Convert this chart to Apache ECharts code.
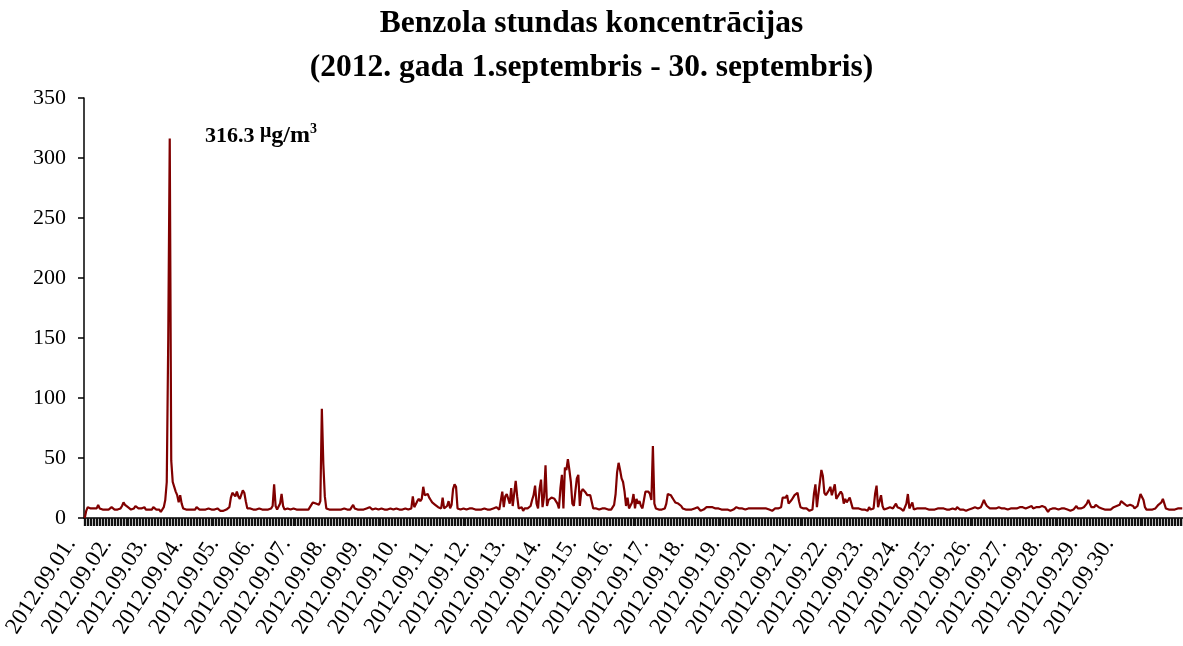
<!DOCTYPE html>
<html>
<head>
<meta charset="utf-8">
<script src="https://cdn.jsdelivr.net/npm/echarts@6/dist/echarts.min.js"></script>
<style>html,body{margin:0;padding:0;background:#fff}#c{width:1183px;height:646px}</style>
</head>
<body>
<div id="c"></div>
<script>
// Day tick labels
const dayLabels = ["2012.09.01.","2012.09.02.","2012.09.03.","2012.09.04.","2012.09.05.","2012.09.06.","2012.09.07.","2012.09.08.","2012.09.09.","2012.09.10.","2012.09.11.","2012.09.12.","2012.09.13.","2012.09.14.","2012.09.15.","2012.09.16.","2012.09.17.","2012.09.18.","2012.09.19.","2012.09.20.","2012.09.21.","2012.09.22.","2012.09.23.","2012.09.24.","2012.09.25.","2012.09.26.","2012.09.27.","2012.09.28.","2012.09.29.","2012.09.30."];
const yTicks = [0, 50, 100, 150, 200, 250, 300, 350];

// Hourly benzene concentrations (µg/m³), one array per day
const d01 = [0, 6, 9, 8, 8, 7, 8, 7, 8, 11, 8, 7, 7, 7, 7, 7, 7, 8, 9, 8, 7, 8, 7, 7];
const d02 = [8, 10, 13, 11, 10, 9, 8, 7, 7, 8, 10, 9, 8, 7, 8, 8, 9, 7, 7, 7, 7, 7, 9, 8];
const d03 = [7, 7, 7, 5, 6, 9, 15, 30, 150, 316.3, 48, 30, 29, 22, 19, 13, 19, 12, 8, 7, 7, 7, 7, 7];
const d04 = [7, 7, 7, 9, 8, 7, 7, 7, 7, 7, 7, 8, 7, 7, 6, 7, 7, 8, 7, 6, 5, 6, 7, 7];
const d05 = [7, 9, 17, 21, 22, 18, 22, 18, 16, 17, 23, 21, 14, 8, 7, 8, 7, 7, 8, 7, 7, 8, 7, 7];
const d06 = [7, 7, 8, 7, 7, 8, 10, 28, 10, 7, 7, 12, 20, 10, 7, 7, 8, 7, 7, 7, 8, 7, 7, 7];
const d07 = [7, 7, 7, 7, 7, 8, 7, 9, 10, 13, 12, 12, 11, 11, 14, 91, 45, 18, 8, 7, 7, 7, 7, 7];
const d08 = [7, 7, 7, 7, 7, 7, 8, 7, 7, 7, 7, 9, 11, 8, 7, 7, 7, 7, 7, 7, 7, 8, 7, 9];
const d09 = [8, 7, 7, 8, 7, 7, 7, 8, 7, 7, 8, 7, 7, 8, 7, 7, 8, 8, 7, 7, 7, 7, 7, 8];
const d10 = [7, 7, 8, 8, 18, 9, 8, 14, 16, 14, 16, 26, 19, 20, 20, 17, 15, 13, 12, 11, 10, 9, 9, 8];
const d11 = [17, 8, 9, 10, 14, 8, 11, 24, 28, 26, 8, 8, 7, 7, 8, 7, 7, 8, 8, 8, 8, 8, 7, 7];
const d12 = [7, 7, 7, 7, 8, 7, 7, 7, 7, 8, 8, 7, 9, 8, 7, 8, 22, 9, 18, 20, 19, 12, 25, 10];
const d13 = [9, 31, 18, 8, 8, 9, 6, 8, 8, 8, 8, 10, 15, 19, 27, 12, 8, 24, 32, 9, 18, 44, 10, 15];
const d14 = [16, 17, 17, 16, 16, 12, 8, 25, 36, 8, 42, 40, 49, 40, 30, 12, 10, 22, 33, 36, 10, 22, 24, 24];
const d15 = [21, 19, 18, 19, 18, 8, 8, 8, 8, 7, 8, 8, 7, 8, 8, 7, 8, 7, 8, 11, 20, 38, 46, 40];
const d16 = [33, 30, 22, 10, 17, 8, 7, 13, 20, 8, 16, 12, 14, 10, 8, 15, 22, 21, 22, 20, 15, 60, 12, 8];
const d17 = [8, 7, 8, 7, 8, 8, 12, 20, 20, 19, 17, 15, 13, 12, 12, 11, 10, 8, 7, 7, 7, 7, 7, 7];
const d18 = [7, 8, 9, 9, 8, 6, 6, 7, 8, 9, 9, 9, 9, 9, 9, 8, 8, 8, 7, 7, 7, 7, 7, 7];
const d19 = [6, 6, 5, 7, 8, 9, 8, 8, 8, 8, 8, 7, 8, 8, 7, 8, 8, 8, 8, 8, 8, 8, 9, 8];
const d20 = [9, 8, 8, 7, 6, 6, 7, 8, 8, 8, 7, 9, 17, 16, 17, 19, 12, 12, 15, 17, 19, 20, 21, 14];
const d21 = [9, 8, 8, 8, 8, 8, 6, 7, 7, 20, 28, 9, 20, 30, 40, 35, 21, 19, 20, 23, 26, 19, 20, 28];
const d22 = [16, 18, 19, 22, 20, 12, 16, 13, 15, 17, 18, 8, 8, 8, 7, 8, 7, 7, 8, 7, 7, 6, 9, 7];
const d23 = [7, 8, 20, 27, 9, 8, 19, 10, 7, 8, 8, 9, 9, 8, 8, 9, 12, 9, 8, 8, 7, 6, 5, 12];
const d24 = [20, 8, 9, 13, 7, 7, 8, 8, 8, 7, 8, 8, 8, 7, 7, 8, 7, 6, 7, 8, 8, 7, 8, 8];
const d25 = [8, 7, 7, 8, 7, 7, 8, 8, 7, 9, 9, 7, 7, 7, 6, 6, 5, 7, 7, 8, 8, 9, 9, 8];
const d26 = [8, 9, 12, 15, 12, 10, 9, 8, 8, 8, 8, 8, 8, 9, 9, 8, 8, 8, 7, 7, 7, 8, 8, 8];
const d27 = [8, 8, 8, 9, 8, 9, 8, 8, 8, 9, 8, 10, 8, 8, 9, 8, 9, 9, 10, 11, 9, 7, 5, 7];
const d28 = [8, 8, 7, 8, 8, 7, 8, 8, 7, 8, 8, 7, 7, 6, 5, 7, 8, 10, 8, 8, 8, 9, 9, 10];
const d29 = [12, 15, 12, 9, 8, 9, 11, 10, 9, 8, 8, 7, 7, 7, 7, 7, 7, 7, 9, 10, 10, 11, 11, 14];
const d30 = [14, 12, 11, 10, 10, 11, 12, 10, 8, 8, 10, 15, 20, 19, 15, 9, 7, 7, 7, 7, 7, 7, 8, 9];
// hours after 30 September still visible at the right edge (no day label)
const tail = [11, 12, 13, 16, 15, 8, 7, 7, 7, 7, 7, 7, 7, 8, 8, 8, 8];

const peakLabel = "316.3";

const days = [d01,d02,d03,d04,d05,d06,d07,d08,d09,d10,d11,d12,d13,d14,d15,d16,d17,d18,d19,d20,d21,d22,d23,d24,d25,d26,d27,d28,d29,d30];
const values = [].concat(...days, tail);
const hourCats = values.map((v, i) => {
  const d = Math.floor(i / 24);
  return (i % 24 === 0 && d < dayLabels.length) ? dayLabels[d] : '';
});

const serif = "'Liberation Serif', 'Times New Roman', serif";
const chart = echarts.init(document.getElementById('c'), null, {renderer: 'canvas'});
chart.setOption({
  animation: false,
  backgroundColor: '#ffffff',
  title: [{
    text: 'Benzola stundas koncentrācijas\n(2012. gada 1.septembris - 30. septembris)',
    left: 'center', top: -3,
    textStyle: {fontFamily: serif, fontWeight: 'bold', fontSize: 31.5, lineHeight: 44, color: '#000'}
  }, {
    text: '{a|' + peakLabel + ' }{mu|μ}{b|g/m}{sup|3}',
    left: 200, top: 117,
    textStyle: {
      rich: {
        a: {fontFamily: serif, fontWeight: 'bold', fontSize: 22, color: '#000', lineHeight: 28},
        b: {fontFamily: serif, fontWeight: 'bold', fontSize: 24, color: '#000', lineHeight: 28},
        mu: {fontFamily: serif, fontWeight: 'bold', fontSize: 20, color: '#000', verticalAlign: 'top', lineHeight: 20},
        sup: {fontFamily: serif, fontWeight: 'bold', fontSize: 14, color: '#000', verticalAlign: 'top', lineHeight: 14}
      }
    }
  }],
  grid: [
    {left: 84, right: 0, top: 98, bottom: 128, containLabel: false},
    {left: 53, width: 1074, top: 98, bottom: 128, containLabel: false}
  ],
  xAxis: [{
    type: 'category', gridIndex: 0, data: hourCats, boundaryGap: true,
    axisLine: {lineStyle: {color: '#000', width: 1.5}},
    axisTick: {show: true, interval: 0, length: 8, lineStyle: {color: '#111', width: 1.3}},
    axisLabel: {show: false}
  }, {
    type: 'category', gridIndex: 1, data: dayLabels, boundaryGap: true,
    axisLine: {show: false}, axisTick: {show: false},
    axisLabel: {interval: 0, rotate: 57, margin: 22, fontFamily: serif, fontSize: 23, color: '#000'}
  }],
  yAxis: [{
    type: 'value', gridIndex: 0, min: 0, max: 350, interval: 50,
    axisLine: {show: true, lineStyle: {color: '#000', width: 1.5}},
    axisTick: {show: true, length: 6, lineStyle: {color: '#000', width: 1.5}},
    splitLine: {show: false},
    axisLabel: {margin: 18, fontFamily: serif, fontSize: 22, color: '#000',
      formatter: v => yTicks.includes(v) ? String(v) : ''}
  }, {
    type: 'value', gridIndex: 1, min: 0, max: 350, show: false, splitLine: {show: false}
  }],
  series: [{
    type: 'line', xAxisIndex: 0, yAxisIndex: 0, data: values,
    symbol: 'none', smooth: false,
    lineStyle: {color: '#800000', width: 2.2},
    itemStyle: {color: '#800000'}
  }]
});
</script>
</body>
</html>
